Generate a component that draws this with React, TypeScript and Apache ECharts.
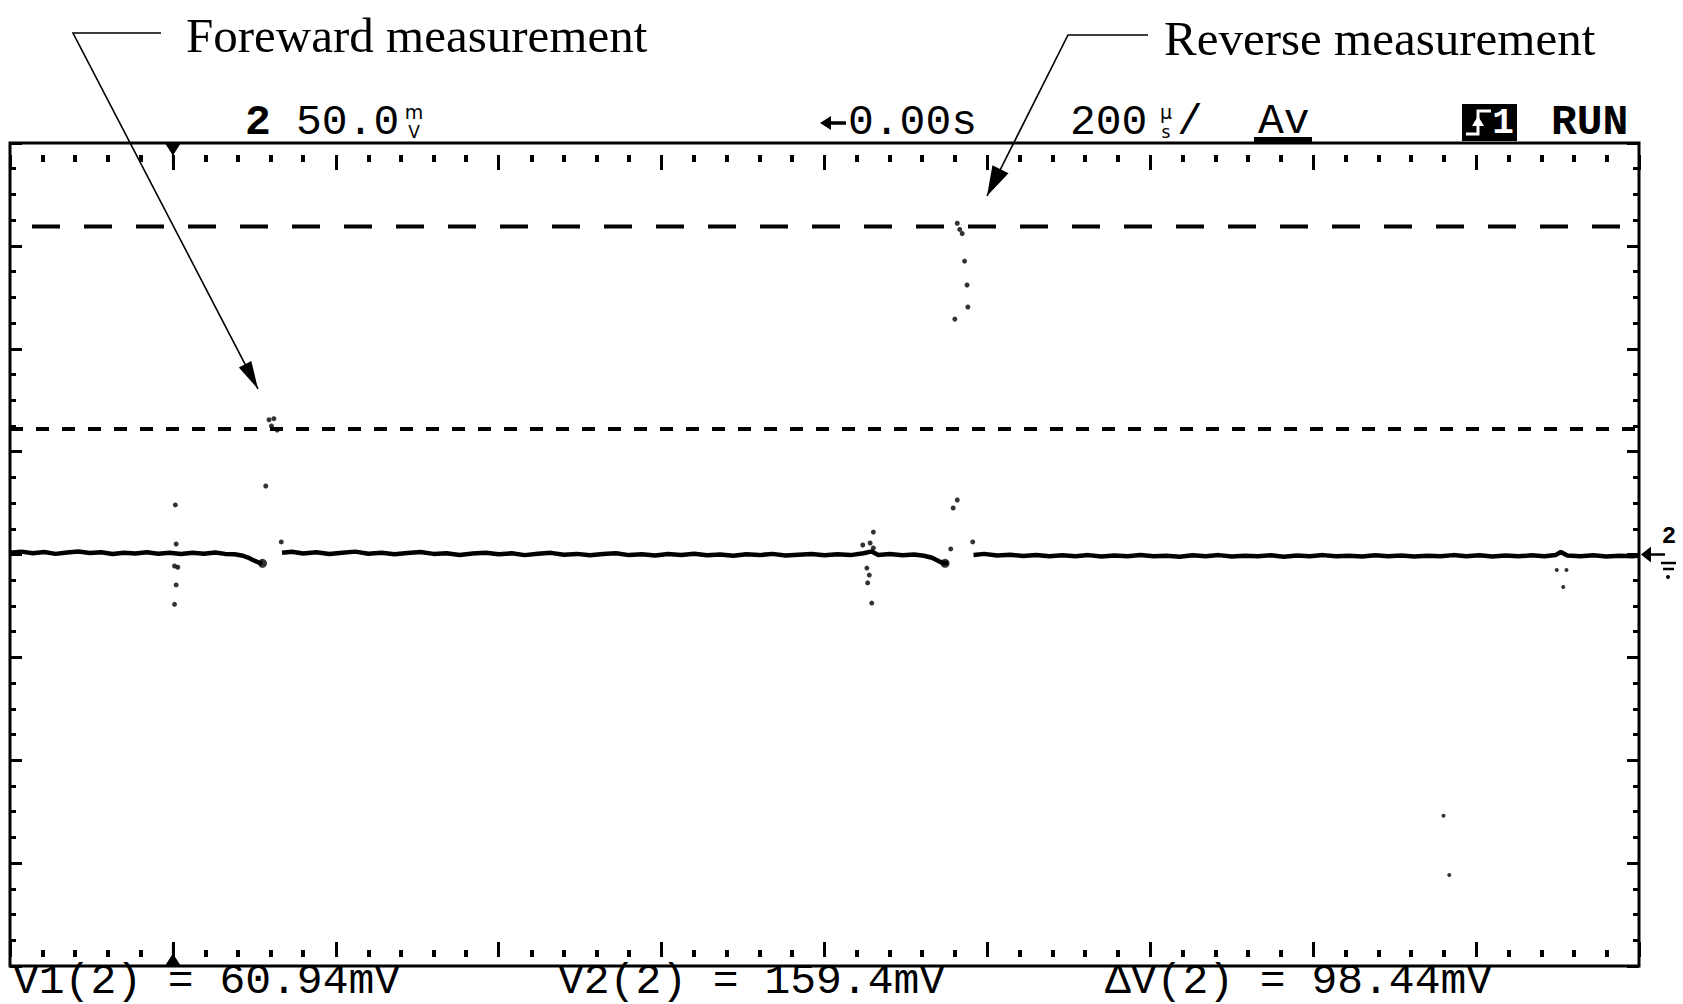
import React, { useEffect, useRef } from "react";
import * as echarts from "echarts";

// Oscilloscope settings: 200 µs/div (10 div), 50 mV/div (8 div)
const timeRange: [number, number] = [-200, 1800];
const timePerDiv = 200;
const voltRange: [number, number] = [-200, 200];
const voltPerDiv = 50;

// cursor readouts (mV)
const cursorV1 = 60.94;
const cursorV2 = 159.4;

// trace segments [time µs, mV]
const traceBefore: [number, number][] = [
  [-200, 0.9], [-186, 1.4], [-172, 0.6], [-158, 1.2], [-144, 0.3], [-130, 1.0], [-116, 1.5],
  [-102, 0.7], [-88, 1.1], [-74, 0.2], [-60, 0.9], [-46, 0.5], [-32, 1.1], [-18, 0.4], [-4, 0.8],
  [10, 0.2], [24, 0.9], [38, 0.4], [52, 1.0], [64, 0.3], [76, 0.1], [86, -0.6], [94, -1.8],
  [100, -3.0], [106, -4.0], [110, -4.3],
];
const traceMiddle: [number, number][] = [
  [134, 0.8], [146, 1.3], [160, 0.5], [176, 1.1], [192, 0.2], [208, 0.9], [224, 1.4], [240, 0.4],
  [256, 0.8], [272, 0.1], [288, 0.7], [304, 1.2], [320, 0.3], [336, 0.6], [352, -0.2], [368, 0.5],
  [384, 0.9], [400, 0.1], [416, 0.6], [432, -0.3], [448, 0.4], [464, 0.8], [480, -0.1], [496, 0.3],
  [512, -0.4], [528, 0.2], [544, 0.6], [560, -0.3], [576, 0.1], [592, -0.5], [608, 0.2], [624, -0.2],
  [640, 0.4], [656, -0.4], [672, 0.0], [688, -0.6], [704, 0.1], [720, -0.3], [736, 0.3], [752, -0.5],
  [768, -0.1], [784, 0.2], [800, -0.4], [816, 0.1], [832, -0.3], [848, 0.6], [858, 1.5], [866, -0.2],
  [880, 0.2], [896, -0.4], [910, 0.0], [922, -0.6], [932, -1.6], [940, -3.2], [946, -4.2], [952, -4.0],
];
const traceAfter: [number, number][] = [
  [983, -0.2], [996, 0.3], [1012, -0.5], [1028, -0.1], [1044, -0.7], [1060, -0.2], [1076, -0.9],
  [1092, -0.4], [1108, -0.8], [1124, -0.3], [1140, -1.0], [1156, -0.5], [1172, -0.8], [1188, -0.2],
  [1204, -0.9], [1220, -0.6], [1236, -1.1], [1252, -0.4], [1268, -0.8], [1284, -0.3], [1300, -1.0],
  [1316, -0.6], [1332, -0.9], [1348, -0.4], [1364, -1.1], [1380, -0.5], [1396, -0.8], [1412, -0.3],
  [1428, -0.9], [1444, -0.6], [1460, -1.0], [1476, -0.4], [1492, -0.8], [1508, -0.5], [1524, -1.0],
  [1540, -0.6], [1556, -0.9], [1572, -0.3], [1588, -0.8], [1604, -0.4], [1620, -1.0], [1636, -0.5],
  [1652, -0.9], [1668, -0.4], [1684, -0.8], [1698, -0.2], [1704, 1.2], [1712, -0.5], [1728, -0.9],
  [1744, -0.4], [1760, -1.0], [1776, -0.6], [1792, -0.8], [1800, -0.5],
];

// isolated sample dots
const forwardDots: [number, number][] = [
  [3, 24.1], [4, 5.1], [2, -5.6], [6, -6.2], [4, -14.8], [2, -24.2],
  [114, 33.3], [118, 65.5], [121, 62.5], [124, 66], [128, 60.5], [133, 6.1],
];
const reverseDots: [number, number][] = [
  [847, 4.6], [856, 5.6], [860, 10.9], [860, 3.2], [852, -6.6], [855, -10], [853, -13.8], [858, -23.6],
  [955, 2.7], [958, 22.6], [963, 26.5], [960, 114.4], [976, 120.3], [975, 131], [972, 142.6],
  [963, 161], [966, 158], [969, 156], [982, 6.1],
];
const lateDots: [number, number][] = [
  [1699, -7.5], [1711, -7.5], [1707, -15.8], [1560, -127], [1567, -155.8],
];
const blobDots: [number, number][] = [
  [110, -4.3], [948, -4.3],
];

// texts
const annotationForward = "Foreward measurement";
const annotationReverse = "Reverse measurement";
const headerChannel = "2";
const headerScale = "50.0";
const headerDelay = "0.00s";
const headerTime = "200";
const headerMode = "Av";
const headerRun = "RUN";
const readouts = ["V1(2) = 60.94mV", "V2(2) = 159.4mV", "ΔV(2) = 98.44mV"];

const MONO = "'Liberation Mono', 'DejaVu Sans Mono', monospace";
const SERIF = "'Liberation Serif', 'DejaVu Serif', serif";
const SANS = "'DejaVu Sans', sans-serif";

function arrowHead(x0: number, y0: number, x1: number, y1: number, len: number, half: number) {
  const dx = x1 - x0, dy = y1 - y0, L = Math.hypot(dx, dy);
  const ux = dx / L, uy = dy / L;
  const bx = x1 - ux * len, by = y1 - uy * len;
  return [[x1, y1], [bx - uy * half, by + ux * half], [bx + uy * half, by - ux * half]];
}

function monoText(text: string, x: number, y: number, extra: any = {}) {
  return {
    type: "text",
    x,
    y,
    silent: true,
    style: {
      text,
      fontFamily: MONO,
      fontSize: 43,
      lineHeight: 36,
      fill: "#000",
      align: "left",
      verticalAlign: "middle",
      ...extra,
    },
  };
}

function smallText(text: string, x: number, y: number, size: number) {
  return {
    type: "text",
    x,
    y,
    silent: true,
    style: {
      text,
      fontFamily: SANS,
      fontSize: size,
      lineHeight: 15,
      fill: "#000",
      align: "center",
      verticalAlign: "middle",
    },
  };
}

export default function App() {
  const ref = useRef<HTMLDivElement>(null);
  useEffect(() => {
    if (!ref.current) return;
    const chart = echarts.init(ref.current, null, { renderer: "svg" });

    const axisX = (position: "top" | "bottom", offset: number) => ({
      type: "value",
      min: timeRange[0],
      max: timeRange[1],
      interval: timePerDiv,
      position,
      offset,
      axisLine: { show: false, onZero: false },
      axisTick: { show: true, inside: true, length: 15, lineStyle: { color: "#000", width: 3 } },
      minorTick: { show: true, splitNumber: 5, length: 7, lineStyle: { color: "#000", width: 4 } },
      axisLabel: { show: false },
      splitLine: { show: false },
      minorSplitLine: { show: false },
    });
    const axisY = (position: "left" | "right") => ({
      type: "value",
      min: voltRange[0],
      max: voltRange[1],
      interval: voltPerDiv,
      position,
      axisLine: { show: false, onZero: false },
      axisTick: { show: true, inside: true, length: 12, lineStyle: { color: "#000", width: 3 } },
      minorTick: { show: true, splitNumber: 4, length: 6, lineStyle: { color: "#000", width: 3 } },
      axisLabel: { show: false },
      splitLine: { show: false },
      minorSplitLine: { show: false },
    });

    const traceSeries = (data: [number, number][], extra: any = {}) => ({
      type: "line",
      data,
      xAxisIndex: 0,
      yAxisIndex: 0,
      showSymbol: false,
      symbol: "none",
      lineStyle: { color: "#000", width: 4.5 },
      silent: true,
      z: 3,
      ...extra,
    });
    const dotSeries = (data: [number, number][], size: number) => ({
      type: "scatter",
      data,
      xAxisIndex: 0,
      yAxisIndex: 0,
      symbol: "circle",
      symbolSize: size,
      itemStyle: { color: "#000" },
      silent: true,
      z: 4,
    });

    const fwdStart = [73, 33], fwdCorner = [161, 33], fwdTip = [258, 389];
    const revStart = [1068, 35], revCorner = [1148, 35], revTip = [987, 196];

    const graphic: any[] = [
      // annotation texts
      {
        type: "text", x: 186, y: 35, silent: true,
        style: { text: annotationForward, fontFamily: SERIF, fontSize: 49, fill: "#000", align: "left", verticalAlign: "middle" },
      },
      {
        type: "text", x: 1164, y: 38, silent: true,
        style: { text: annotationReverse, fontFamily: SERIF, fontSize: 49, fill: "#000", align: "left", verticalAlign: "middle" },
      },
      // leaders
      {
        type: "polyline", silent: true,
        shape: { points: [fwdCorner, fwdStart, fwdTip] },
        style: { stroke: "#000", lineWidth: 1.6, fill: null },
      },
      {
        type: "polygon", silent: true,
        shape: { points: arrowHead(fwdStart[0], fwdStart[1], fwdTip[0], fwdTip[1], 28, 7) },
        style: { fill: "#000" },
      },
      {
        type: "polyline", silent: true,
        shape: { points: [revCorner, revStart, revTip] },
        style: { stroke: "#000", lineWidth: 1.6, fill: null },
      },
      {
        type: "polygon", silent: true,
        shape: { points: arrowHead(revStart[0], revStart[1], revTip[0], revTip[1], 30, 9) },
        style: { fill: "#000" },
      },
      // header
      monoText(headerChannel, 245, 122, { fontWeight: "bold" }),
      monoText(headerScale, 296, 122),
      smallText("m", 414, 112, 19),
      smallText("V", 414, 132, 17),
      // delay arrow
      { type: "line", silent: true, shape: { x1: 828, y1: 123, x2: 846, y2: 123 }, style: { stroke: "#000", lineWidth: 3.5 } },
      { type: "polygon", silent: true, shape: { points: [[820, 123], [831, 116], [831, 130]] }, style: { fill: "#000" } },
      monoText(headerDelay, 848, 122),
      monoText(headerTime, 1070, 122),
      smallText("µ", 1166, 112, 19),
      smallText("s", 1166, 132, 17),
      monoText("/", 1177, 122),
      monoText(headerMode, 1258, 121),
      { type: "rect", silent: true, shape: { x: 1254, y: 137, width: 58, height: 7 }, style: { fill: "#000" } },
      { type: "rect", silent: true, shape: { x: 1462, y: 104, width: 55, height: 37 }, style: { fill: "#000" } },
      {
        type: "polyline", silent: true,
        shape: { points: [[1466, 134], [1478, 134], [1478, 111], [1491, 111]] },
        style: { stroke: "#fff", lineWidth: 3, fill: null },
      },
      {
        type: "polygon", silent: true,
        shape: { points: [[1472, 126], [1484, 126], [1478, 116]] },
        style: { fill: "#fff" },
      },
      {
        type: "text", x: 1503, y: 123, silent: true,
        style: { text: "1", fontFamily: MONO, fontWeight: "bold", fontSize: 36, lineHeight: 32, fill: "#fff", align: "center", verticalAlign: "middle" },
      },
      monoText(headerRun, 1551, 122, { fontWeight: "bold" }),
      // ground marker label and symbol
      {
        type: "text", x: 1669, y: 536, silent: true,
        style: { text: "2", fontFamily: MONO, fontWeight: "bold", fontSize: 24, lineHeight: 20, fill: "#000", align: "center", verticalAlign: "middle" },
      },
      { type: "line", silent: true, shape: { x1: 1661, y1: 563, x2: 1676, y2: 563 }, style: { stroke: "#000", lineWidth: 2.5 } },
      { type: "line", silent: true, shape: { x1: 1663, y1: 569, x2: 1674, y2: 569 }, style: { stroke: "#000", lineWidth: 2.5 } },
      { type: "circle", silent: true, shape: { cx: 1668, cy: 577, r: 2 }, style: { fill: "#000" } },
      // readouts
      monoText(readouts[0], 13, 981, { fontSize: 43, lineHeight: 34 }),
      monoText(readouts[1], 558, 981, { fontSize: 43, lineHeight: 34 }),
      monoText(readouts[2], 1105, 981, { fontSize: 43, lineHeight: 34 }),
    ];

    chart.setOption({
      animation: false,
      backgroundColor: "#fff",
      grid: {
        left: 10, top: 143, width: 1629, height: 823,
        show: true, borderColor: "#000", borderWidth: 3, backgroundColor: "transparent",
      },
      xAxis: [axisX("bottom", -9), axisX("top", -12)],
      yAxis: [axisY("left"), axisY("right")],
      series: [
        traceSeries(traceBefore, {
          markPoint: {
            silent: true,
            label: { show: false },
            itemStyle: { color: "#000" },
            data: [
              {
                coord: [0, voltRange[1]],
                symbol: "path://M0 0 L16 0 L9 11 L9 22 L7 22 L7 11 Z",
                symbolSize: [16, 22],
                symbolOffset: [0, 11],
              },
              {
                coord: [0, voltRange[0]],
                symbol: "path://M7 0 L9 0 L9 11 L16 22 L0 22 L7 11 Z",
                symbolSize: [16, 22],
                symbolOffset: [0, -11],
              },
              {
                coord: [timeRange[1], 0],
                symbol: "path://M0 6 L10 0 L10 5 L24 5 L24 7 L10 7 L10 12 Z",
                symbolSize: [24, 16],
                symbolOffset: [14, 0],
              },
            ],
          },
        }),
        traceSeries(traceMiddle),
        traceSeries(traceAfter),
        {
          type: "line",
          data: [[timeRange[0], cursorV2], [timeRange[1], cursorV2]],
          xAxisIndex: 0, yAxisIndex: 0, symbol: "none", silent: true, z: 2,
          lineStyle: { color: "#000", width: 4, type: [28, 24], dashOffset: 30 },
        },
        {
          type: "line",
          data: [[timeRange[0], cursorV1], [timeRange[1], cursorV1]],
          xAxisIndex: 0, yAxisIndex: 0, symbol: "none", silent: true, z: 2,
          lineStyle: { color: "#000", width: 4, type: [13, 13], dashOffset: 0 },
        },
        dotSeries(forwardDots, 5),
        dotSeries(reverseDots, 5),
        dotSeries(lateDots, 4),
        dotSeries(blobDots, 9),
      ],
      graphic,
    });

    return () => chart.dispose();
  }, []);

  return (
    <div
      ref={ref}
      style={{ position: "fixed", left: 0, top: 0, width: 1683, height: 1004, background: "#fff" }}
    />
  );
}
